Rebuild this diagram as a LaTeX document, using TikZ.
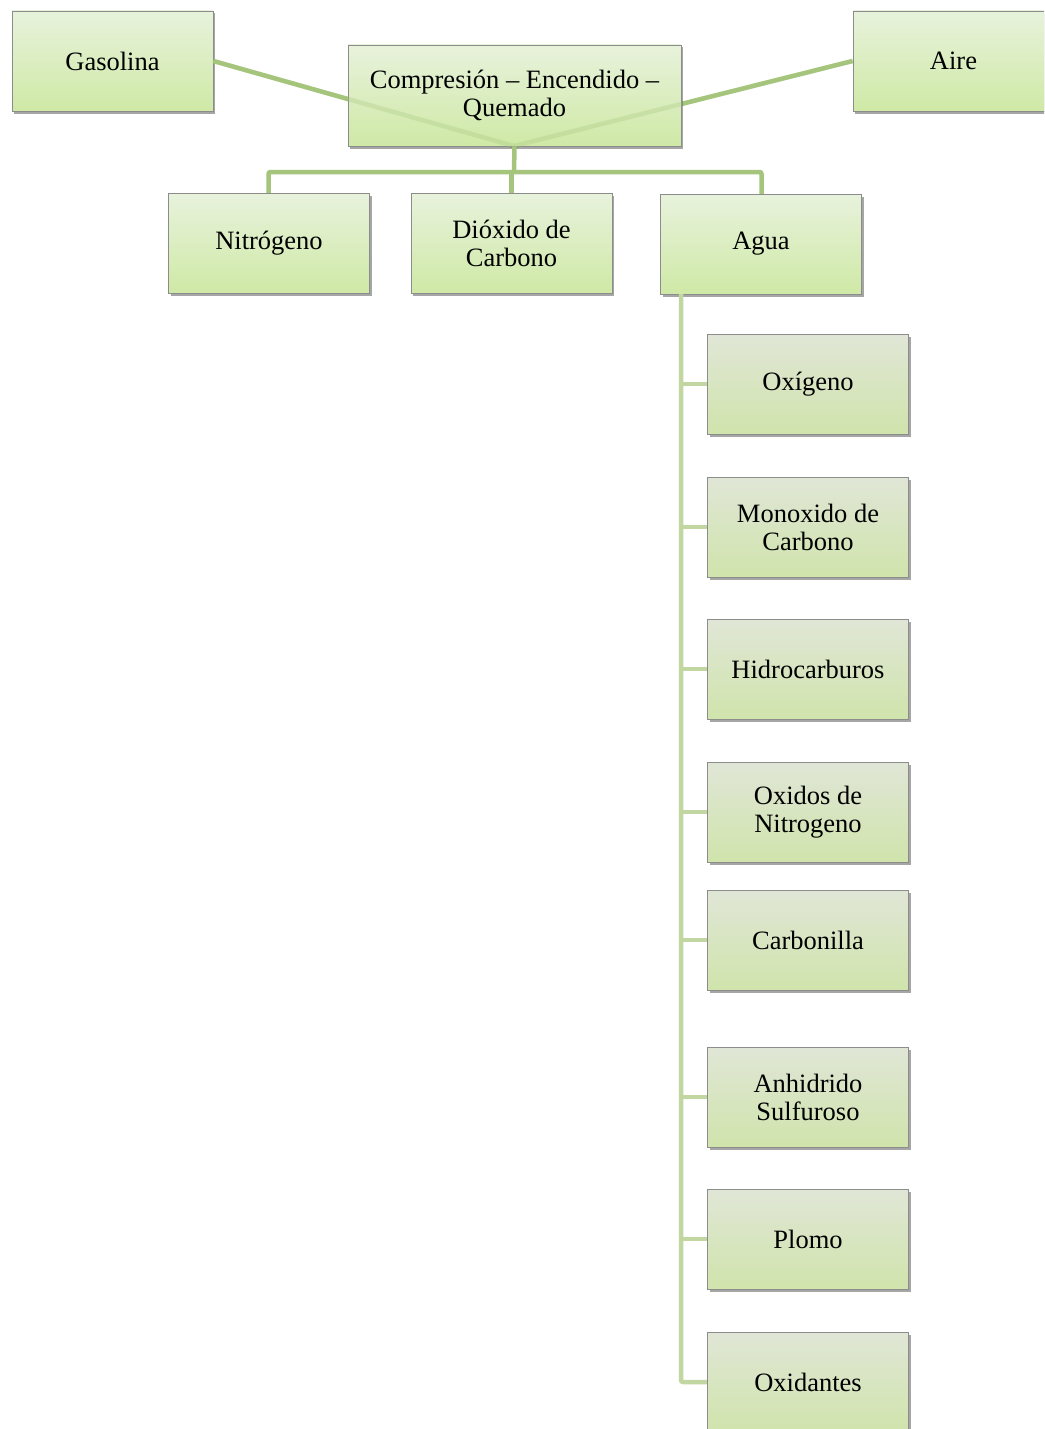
\documentclass[tikz,border=0pt]{standalone}
\usepackage{fontspec}
\setmainfont{Liberation Serif}
\usetikzlibrary{shadows}
\definecolor{linkA}{HTML}{A5C57C}
\definecolor{linkB}{HTML}{C2D6A2}
\definecolor{boxTopA}{HTML}{E8F2DC}
\definecolor{boxBotA}{HTML}{CFE9A6}
\definecolor{boxTopB}{HTML}{E0E6D6}
\definecolor{boxBotB}{HTML}{D0E4AC}
\definecolor{boxEdge}{HTML}{8C8C8C}
\tikzset{
  basebox/.style={rectangle, draw=boxEdge, line width=0.8pt, minimum width=201pt, minimum height=100pt,
    align=center, font=\fontsize{26.5}{28}\selectfont, text=black,
    drop shadow={shadow xshift=2pt, shadow yshift=-2.5pt, opacity=0.35, fill=black}},
  topbox/.style={basebox, top color=boxTopA, bottom color=boxBotA},
  subbox/.style={basebox, top color=boxTopB, bottom color=boxBotB},
  linkmain/.style={draw=linkA, line width=4.5pt, rounded corners=2pt},
  linksub/.style={draw=linkB, line width=4.5pt, rounded corners=2pt},
  inlink/.style={draw=linkA, line width=4.5pt},
}
\begin{document}
\begin{tikzpicture}[x=1pt,y=-1pt]
\useasboundingbox (0,0) rectangle (1044,1429);
\clip (0,0) rectangle (1044,1429);
\node[topbox] (gas) at (112.5,61) {Gasolina};
\node[topbox] (aire) at (953.5,61) {Aire};
\coordinate (cbot) at (514,146);
\draw[inlink] (gas.east) -- (cbot);
\draw[inlink] (aire.west) -- (cbot);
\node[topbox, minimum width=333pt, minimum height=101pt] (comp) at (514.5,95.5) {Compresión – Encendido –\\Quemado};
\draw[inlink, draw opacity=0.3] (gas.east) -- (cbot);
\draw[inlink, draw opacity=0.3] (aire.west) -- (cbot);
% second row
\coordinate (hub) at (514,172);
\draw[linkmain] (comp.south) -- (hub);
\draw[linkmain] (hub) -| (268.5,194);
\draw[linkmain] (hub) -| (761.5,195);
\draw[linkmain] (511.5,172) -- (511.5,194);
\node[topbox] (nit) at (269,243) {Nitrógeno};
\node[topbox] (diox) at (511.5,243) {Dióxido de\\Carbono};
\node[topbox] (agua) at (761,244) {Agua};
% Agua children
\coordinate (aguaL) at (681,294);
\foreach \n/\y in {oxi/384,mono/527,hid/669,noxx/812,carb/940,anh/1097,plo/1239,oxid/1382}{
  \coordinate (\n W) at (707,\y);
}
\draw[linksub] (aguaL) |- (oxidW);
\foreach \n in {oxi,mono,hid,noxx,carb,anh,plo}{
  \draw[draw=linkB, line width=4.5pt] (aguaL |- \n W) -- (\n W);
}
\node[subbox] (oxi) at (808,384) {Oxígeno};
\node[subbox] (mono) at (808,527) {Monoxido de\\Carbono};
\node[subbox] (hid) at (808,669) {Hidrocarburos};
\node[subbox] (noxx) at (808,812) {Oxidos de\\Nitrogeno};
\node[subbox] (carb) at (808,940) {Carbonilla};
\node[subbox] (anh) at (808,1097) {Anhidrido\\Sulfuroso};
\node[subbox] (plo) at (808,1239) {Plomo};
\node[subbox] (oxid) at (808,1382) {Oxidantes};
\end{tikzpicture}
\end{document}
